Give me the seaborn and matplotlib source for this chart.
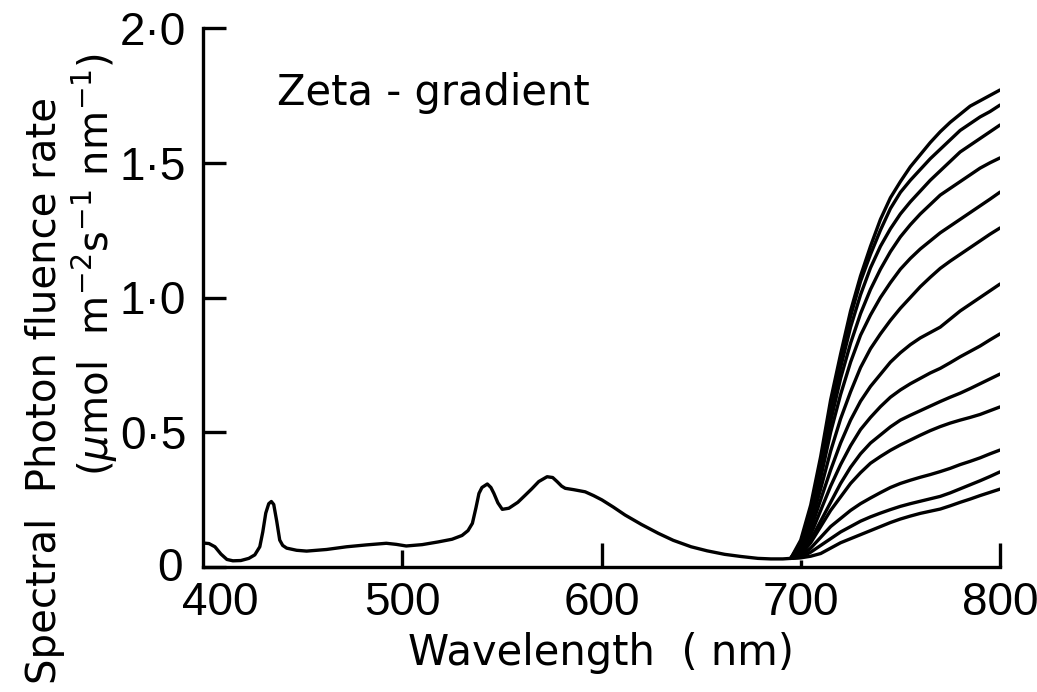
import numpy as np
import pandas as pd
import matplotlib
matplotlib.use("Agg")
import matplotlib.pyplot as plt
import matplotlib.transforms as mtransforms
import seaborn as sns

# ---------------- data ----------------
base_nm = [400, 403, 406, 409, 412, 415, 419, 423, 426, 428.5, 430, 431.5, 433, 434.3,
           435.5, 437, 438.5, 440, 442, 447, 452, 462, 472, 482, 492, 497, 502, 510, 518,
           525, 530, 533, 535.2, 537, 538.5, 540, 542.7, 544.5, 546, 548, 550.2, 553.5,
           558, 561.8, 565, 568.5, 572.7, 575.5, 577.7, 580, 581.8, 586, 591.8, 596,
           600.2, 606, 611.8, 620, 628.5, 636, 645, 653, 661.8, 670, 678.5, 685, 691, 695]
base_val = [0.089, 0.087, 0.075, 0.048, 0.028, 0.023, 0.024, 0.032, 0.045, 0.075, 0.13,
            0.20, 0.235, 0.243, 0.232, 0.17, 0.10, 0.08, 0.07, 0.062, 0.059, 0.065, 0.075,
            0.082, 0.088, 0.084, 0.078, 0.083, 0.093, 0.103, 0.117, 0.135, 0.162, 0.22,
            0.273, 0.295, 0.308, 0.295, 0.273, 0.238, 0.214, 0.218, 0.24, 0.267, 0.29,
            0.317, 0.335, 0.332, 0.317, 0.300, 0.292, 0.287, 0.279, 0.265, 0.249, 0.222,
            0.193, 0.158, 0.125, 0.099, 0.075, 0.06, 0.047, 0.039, 0.032, 0.03, 0.03, 0.032]

rise_nm = [695, 700, 705, 710, 715, 720, 725, 730, 735, 740, 745, 750, 755, 760, 765, 770, 775, 780, 785, 790, 795, 800]
c1 = [0.032, 0.10, 0.23, 0.41, 0.62, 0.79, 0.95, 1.08, 1.19, 1.29, 1.37, 1.43, 1.485, 1.53, 1.575, 1.615, 1.65, 1.68, 1.71, 1.73, 1.75, 1.77]
c2 = [0.032, 0.09, 0.21, 0.39, 0.60, 0.77, 0.93, 1.06, 1.16, 1.25, 1.33, 1.39, 1.435, 1.475, 1.515, 1.55, 1.585, 1.62, 1.645, 1.67, 1.69, 1.714]
c3 = [0.032, 0.085, 0.20, 0.37, 0.57, 0.74, 0.89, 1.01, 1.11, 1.19, 1.255, 1.31, 1.355, 1.395, 1.435, 1.47, 1.505, 1.54, 1.565, 1.59, 1.615, 1.64]
c4 = [0.032, 0.08, 0.19, 0.35, 0.54, 0.70, 0.83, 0.94, 1.03, 1.105, 1.17, 1.225, 1.27, 1.31, 1.345, 1.38, 1.405, 1.43, 1.455, 1.48, 1.50, 1.518]
c5 = [0.032, 0.075, 0.18, 0.33, 0.50, 0.64, 0.76, 0.86, 0.935, 1.00, 1.055, 1.105, 1.145, 1.18, 1.21, 1.24, 1.265, 1.29, 1.315, 1.34, 1.365, 1.391]
c6 = [0.032, 0.07, 0.16, 0.29, 0.43, 0.55, 0.65, 0.74, 0.81, 0.865, 0.915, 0.96, 1.00, 1.04, 1.075, 1.108, 1.135, 1.16, 1.185, 1.21, 1.235, 1.258]
c7 = [0.032, 0.06, 0.14, 0.25, 0.36, 0.46, 0.545, 0.615, 0.67, 0.715, 0.76, 0.795, 0.825, 0.85, 0.87, 0.89, 0.92, 0.95, 0.975, 1.00, 1.025, 1.05]
c8 = [0.032, 0.055, 0.12, 0.21, 0.30, 0.38, 0.45, 0.51, 0.555, 0.595, 0.63, 0.657, 0.68, 0.70, 0.72, 0.737, 0.758, 0.78, 0.80, 0.82, 0.843, 0.865]
c9 = [0.032, 0.05, 0.10, 0.17, 0.24, 0.31, 0.37, 0.42, 0.46, 0.49, 0.52, 0.545, 0.563, 0.58, 0.597, 0.614, 0.63, 0.645, 0.662, 0.68, 0.698, 0.716]
c10 = [0.032, 0.045, 0.09, 0.15, 0.21, 0.26, 0.31, 0.35, 0.385, 0.41, 0.433, 0.453, 0.471, 0.489, 0.506, 0.521, 0.534, 0.545, 0.555, 0.566, 0.58, 0.594]
c11 = [0.032, 0.04, 0.07, 0.11, 0.15, 0.18, 0.21, 0.235, 0.256, 0.276, 0.295, 0.31, 0.322, 0.333, 0.343, 0.354, 0.366, 0.38, 0.392, 0.405, 0.42, 0.434]
c12 = [0.032, 0.036, 0.055, 0.08, 0.105, 0.13, 0.15, 0.17, 0.186, 0.20, 0.213, 0.225, 0.235, 0.244, 0.253, 0.262, 0.275, 0.29, 0.305, 0.32, 0.336, 0.353]
c13 = [0.032, 0.034, 0.04, 0.05, 0.07, 0.09, 0.105, 0.12, 0.135, 0.15, 0.165, 0.178, 0.189, 0.199, 0.207, 0.215, 0.227, 0.24, 0.252, 0.265, 0.277, 0.289]
curves = [c1, c2, c3, c4, c5, c6, c7, c8, c9, c10, c11, c12, c13]

x_ticks = [400, 500, 600, 700, 800]
x_ticklabels = ["400", "500", "600", "700", "800"]
y_ticks = [0, 0.5, 1.0, 1.5, 2.0]
y_ticklabels = ["0", "0·5", "1·0", "1·5", "2·0"]

# ---------------- style ----------------
sns.set_style("ticks")
plt.rcParams["font.family"] = ["DejaVu Sans"]
plt.rcParams["mathtext.fontset"] = "dejavusans"
plt.rcParams["text.color"] = "black"
plt.rcParams["axes.labelcolor"] = "black"
plt.rcParams["xtick.color"] = "black"
plt.rcParams["ytick.color"] = "black"
plt.rcParams["lines.solid_capstyle"] = "round"
plt.rcParams["lines.solid_joinstyle"] = "round"

W, H = 1037, 692
fig = plt.figure(figsize=(W / 100, H / 100), dpi=100)
ax = fig.add_axes([203 / W, 1 - 567 / H, (1000 - 203) / W, (567 - 28) / H])

df_base = pd.DataFrame({"nm": base_nm, "val": base_val})
rows = []
for i, c in enumerate(curves):
    for n, v in zip(rise_nm, c):
        rows.append({"nm": n, "val": v, "curve": i})
df_rise = pd.DataFrame(rows)

lw = 2.4
sns.lineplot(data=df_base, x="nm", y="val", color="black", lw=lw, ax=ax,
             estimator=None, sort=False)
sns.lineplot(data=df_rise, x="nm", y="val", units="curve", color="black", lw=lw,
             ax=ax, estimator=None, sort=False)

ax.set_xlim(400, 800)
ax.set_ylim(0, 2.0)
sns.despine(ax=ax)
for s in ["left", "bottom"]:
    ax.spines[s].set_linewidth(2.4)
    ax.spines[s].set_color("black")

tick_font = {"family": ["Liberation Sans", "DejaVu Sans"], "size": 33}
ax.set_xticks(x_ticks)
ax.set_xticklabels(x_ticklabels, fontdict=tick_font)
ax.set_yticks(y_ticks)
ax.set_yticklabels(y_ticklabels, fontdict=tick_font)
ax.tick_params(axis="both", direction="in", width=2.4, color="black", labelcolor="black")
ax.tick_params(axis="y", length=16.5, pad=12)
ax.tick_params(axis="x", length=12, pad=10)
xt_len = [0, 12, 17, 5, 17]
for t, L in zip(ax.xaxis.get_major_ticks(), xt_len):
    t.tick1line.set_markersize(L)

# nudge first x label right, "0" y label up-left as in the reference
lbl400 = ax.get_xticklabels()[0]
lbl400.set_transform(lbl400.get_transform() + mtransforms.ScaledTranslation(17 / 100, 0, fig.dpi_scale_trans))
lbl0 = ax.get_yticklabels()[0]
lbl0.set_transform(lbl0.get_transform() + mtransforms.ScaledTranslation(-4 / 100, 3 / 100, fig.dpi_scale_trans))

ax.set_xlabel("Wavelength  ( nm)", fontsize=30, labelpad=5, color="black")
ax.set_ylabel("")

ax.text(437, 1.76, "Zeta - gradient", fontsize=30, ha="left", va="center", color="black")

fig.text(45 / W, 1 - 390 / H, "Spectral  Photon fluence rate", rotation=90,
         fontsize=29, ha="center", va="center", color="black")
fig.text(95 / W, 1 - 265 / H, r"($\mu$mol  m$^{-2}$s$^{-1}$ nm$^{-1}$)", rotation=90,
         fontsize=29, ha="center", va="center", color="black")

fig.savefig("out.png", dpi=100, facecolor="white")
